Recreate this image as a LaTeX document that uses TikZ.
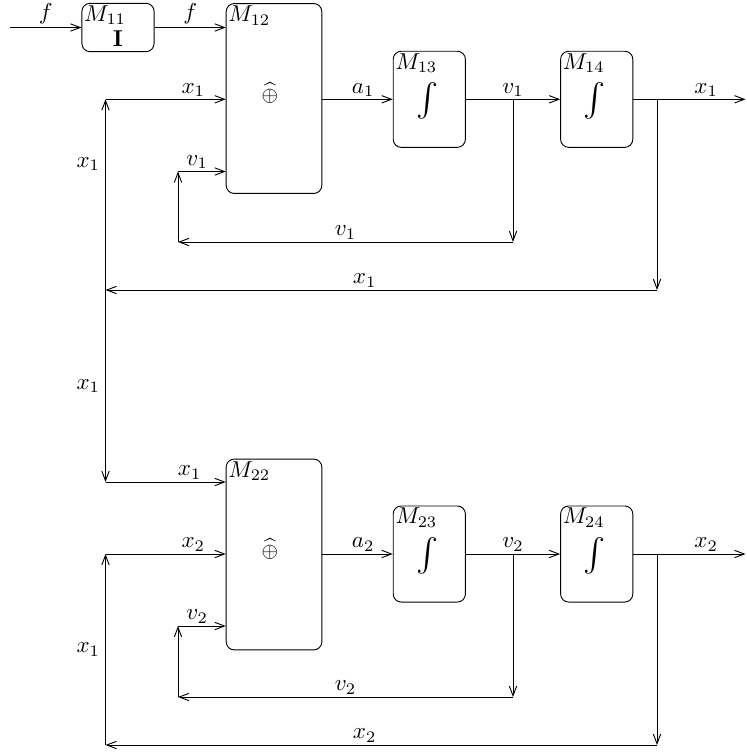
\documentclass[tikz,border=0pt]{standalone}
\usepackage{amsmath}
\usepackage{amsfonts, amssymb}
\usetikzlibrary{arrows.meta, positioning, calc}

\begin{document}
\begin{tikzpicture}[x=0.435pt, y=-0.435pt, >={Straight Barb[length=4.2pt, width=3.2pt]},
    every node/.style={inner sep=1pt},
    blk/.style 2 args={draw, rounded corners=3.5pt, minimum width=#1, minimum height=#2, inner sep=0pt},
    tag/.style={anchor=north west, inner sep=1pt}]
    \useasboundingbox (0,0) rectangle (746,753);

    % Blocks of the first stage
    \node[blk={31.4pt}{21pt}] (M11) at (118,27.5) {};
    \node[blk={41.6pt}{82.6pt}] (M12) at (274,98.5) {};
    \node[blk={31.4pt}{41.8pt}] (M13) at (429.3,99.3) {};
    \node[blk={31.4pt}{41.8pt}] (M14) at (596.7,99.3) {};

    % Blocks of the second stage
    \node[blk={41.6pt}{83pt}] (M22) at (274,554.5) {};
    \node[blk={31.4pt}{41.8pt}] (M23) at (429.3,554) {};
    \node[blk={31.4pt}{41.8pt}] (M24) at (596.7,554) {};

    % Block names
    \foreach \b in {11,12,13,14,22,23,24} {
      \node[tag] (t\b) at (M\b.north west) {$M_{\b}$};
    }

    % Block contents
    \node (id) at (118,39) {$\mathbf{I}$};
    \node[font=\small] (sum1) at (270,93) {$\widehat{\oplus}$};
    \node[font=\small] (sum2) at (270,549) {$\widehat{\oplus}$};
    \foreach \b in {13,14,23,24} {
      \node[font=\Large, inner sep=0pt] (int\b) at ($(M\b)+(-2,2)$) {$\int$};
    }

    % Corners of the feedback lines
    \coordinate (fin) at (10,27.5);
    \coordinate (vj1) at (513,99.3);
    \coordinate (vd1) at (513,242);
    \coordinate (vl1) at (178,242);
    \coordinate (vu1) at (178,171.5);
    \coordinate (xj1) at (657,99.3);
    \coordinate (xd1) at (657,290);
    \coordinate (xl1) at (105.5,290);
    \coordinate (xu1) at (105.5,99.3);
    \coordinate (xw1) at (105.5,482);
    \coordinate (xo1) at (745.5,99.3);
    \coordinate (vj2) at (513,554);
    \coordinate (vd2) at (513,697);
    \coordinate (vl2) at (178,697);
    \coordinate (vu2) at (178,626);
    \coordinate (xj2) at (657,554);
    \coordinate (xd2) at (657,745);
    \coordinate (xl2) at (105.5,745);
    \coordinate (xu2) at (105.5,554);
    \coordinate (xo2) at (745.5,554);

    % First stage
    \draw[->] (fin) -- node[above=0.5pt] {$f$} (M11);
    \draw[->] (M11.east) -- node[above=0.5pt] {$f$} (M11.east -| M12.west);
    \draw[->] (xu1) -- node[above, pos=0.73] {$x_1$} (xu1 -| M12.west);
    \draw[->] (vu1) -- node[above, pos=0.4] {$v_1$} (vu1 -| M12.west);
    \draw[->] (M12.east |- vj1) -- node[above, pos=0.58] {$a_1$} (M13.west |- vj1);
    \draw[->] (M13) -- node[above] {$v_1$} (M14);
    \draw[->] (M14) -- node[above, pos=0.65] {$x_1$} (xo1);
    \draw[->] (vj1) -- (vd1);
    \draw[->] (vd1) -- node[above] {$v_1$} (vl1);
    \draw[->] (vl1) -- (vu1);
    \draw[->] (xj1) -- (xd1);
    \draw[->] (xd1) -- node[above, pos=0.53] {$x_1$} (xl1);
    \draw[->] (xl1) -- node[left=1.2pt, pos=0.66] {$x_1$} (xu1);
    \draw[->] (xl1) -- node[left=1.2pt] {$x_1$} (xw1);
    \draw[->] (xw1) -- node[above, pos=0.7] {$x_1$} (xw1 -| M22.west);

    % Second stage
    \draw[->] (xu2) -- node[above, pos=0.73] {$x_2$} (xu2 -| M22.west);
    \draw[->] (vu2) -- node[above, pos=0.4] {$v_2$} (vu2 -| M22.west);
    \draw[->] (M22.east |- vj2) -- node[above, pos=0.58] {$a_2$} (M23.west |- vj2);
    \draw[->] (M23) -- node[above] {$v_2$} (M24);
    \draw[->] (M24) -- node[above, pos=0.65] {$x_2$} (xo2);
    \draw[->] (vj2) -- (vd2);
    \draw[->] (vd2) -- node[above] {$v_2$} (vl2);
    \draw[->] (vl2) -- (vu2);
    \draw[->] (xj2) -- (xd2);
    \draw[->] (xd2) -- node[above, pos=0.53] {$x_2$} (xl2);
    \draw[->] (xl2) -- node[left=1.2pt] {$x_1$} (xu2);

  \end{tikzpicture}
\end{document}
